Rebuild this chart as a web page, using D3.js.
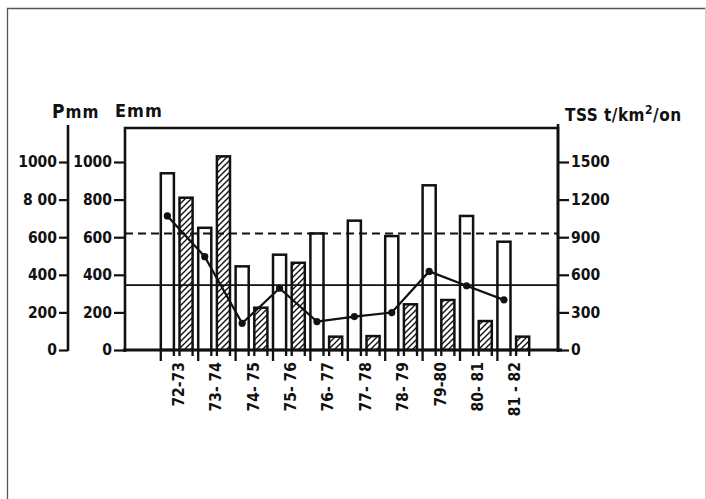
<!DOCTYPE html>
<html>
<head>
<meta charset="utf-8">
<script src="https://cdn.jsdelivr.net/npm/d3@7"></script>
<style>
  html, body { margin: 0; padding: 0; background: #fff; }
  svg { display: block; }
  text { font-family: 'DejaVu Sans Condensed', 'DejaVu Sans', sans-serif; fill: #111; }
</style>
</head>
<body>
<script>
// Hydrological years
const years = ["72-73", "73- 74", "74- 75", "75- 76", "76- 77", "77- 78", "78- 79", "79-80", "80- 81", "81 - 82"];
// Precipitation P (mm) – open bars
const precip = [940, 650, 445, 507, 620, 688, 606, 876, 713, 576];
// Runoff E (mm) – hatched bars
const runoff = [810, 1030, 225, 464, 71, 74, 243, 266, 154, 71];
// Suspended sediment yield TSS (t/km²/an) – line
const tss = [1070, 745, 213, 493, 227, 267, 299, 627, 512, 400];
// Reference levels (mm)
const dashedLevel = [620];
const solidLevel = [345];
// Axis tick values
const mmTicks = [0, 200, 400, 600, 800, 1000];
const mmTickLabels = ["0", "200", "400", "600", "800", "1000"];
const pTickLabels = ["0", "200", "400", "600", "8 00", "1000"];
const tssTicks = [0, 300, 600, 900, 1200, 1500];
const tssTickLabels = ["0", "300", "600", "900", "1200", "1500"];

const W = 706, H = 499;
const svg = d3.select("body").append("svg").attr("width", W).attr("height", H);
svg.append("rect").attr("width", W).attr("height", H).attr("fill", "#fff");

// page border
svg.append("path").attr("d", "M7.5,499 L7.5,8.5 L706,8.5")
  .attr("fill", "none").attr("stroke", "#555").attr("stroke-width", 1.3);
svg.append("line").attr("x1", 705.5).attr("x2", 705.5).attr("y1", 8).attr("y2", 499)
  .attr("stroke", "#ccc").attr("stroke-width", 1);

const plotL = 125, plotR = 558, plotT = 128, base = 350;

const y = d3.scaleLinear().domain([0, 1000]).range([base, 162]);
const yT = d3.scaleLinear().domain([0, 1500]).range([base, 162]);
const x = d3.scaleBand().domain(years).range([158, 532]);
const xs = d3.scaleBand().domain(["P", "E"]).range([0, x.bandwidth()])
  .paddingInner(0.3).paddingOuter(0.15);

// hatch pattern
const defs = svg.append("defs");
defs.append("pattern").attr("id", "hatch").attr("patternUnits", "userSpaceOnUse")
  .attr("width", 6).attr("height", 6)
  .append("path").attr("d", "M-1,7 L7,-1 M-1,1 L1,-1 M5,7 L7,5")
  .attr("stroke", "#111").attr("stroke-width", 1.4);

// bars
const bars = [];
years.forEach((yr, i) => {
  bars.push({ yr, key: "P", v: precip[i] });
  bars.push({ yr, key: "E", v: runoff[i] });
});
const g = svg.append("g");
g.selectAll("rect.bar").data(bars).join("rect").attr("class", "bar")
  .attr("x", d => x(d.yr) + xs(d.key))
  .attr("y", d => y(d.v))
  .attr("width", xs.bandwidth())
  .attr("height", d => base - y(d.v))
  .attr("fill", d => d.key === "P" ? "#fff" : "url(#hatch)")
  .attr("stroke", "#111").attr("stroke-width", 2.5);

// bar edges continue slightly below the baseline
g.selectAll("path.ext").data(bars).join("path").attr("class", "ext")
  .attr("d", d => {
    const x0 = x(d.yr) + xs(d.key), x1 = x0 + xs.bandwidth();
    const l0 = d.key === "P" ? 11 : 6;
    return `M${x0},${base} V${base + l0} M${x1},${base} V${base + 6}`;
  })
  .attr("stroke", "#111").attr("stroke-width", 2.3);

// reference lines
svg.selectAll("line.dash").data(dashedLevel).join("line").attr("class", "dash")
  .attr("x1", plotL).attr("x2", plotR).attr("y1", d => y(d)).attr("y2", d => y(d))
  .attr("stroke", "#111").attr("stroke-width", 2).attr("stroke-dasharray", "8,5");
svg.selectAll("line.solid").data(solidLevel).join("line").attr("class", "solid")
  .attr("x1", plotL).attr("x2", plotR).attr("y1", d => y(d)).attr("y2", d => y(d))
  .attr("stroke", "#111").attr("stroke-width", 1.6);

// TSS line
const pts = years.map((yr, i) => [x(yr) + xs("P") + xs.bandwidth() / 2, yT(tss[i])]);
svg.append("path").attr("d", d3.line()(pts))
  .attr("fill", "none").attr("stroke", "#111").attr("stroke-width", 2.2);
svg.selectAll("circle.pt").data(pts).join("circle").attr("class", "pt")
  .attr("cx", d => d[0]).attr("cy", d => d[1]).attr("r", 3.6).attr("fill", "#111");

// plot frame
svg.append("path")
  .attr("d", `M${plotL},${base + 2} V${plotT} H${plotR} V${base + 2}`)
  .attr("fill", "none").attr("stroke", "#111").attr("stroke-width", 2.6);
svg.append("line").attr("x1", plotL - 2).attr("x2", plotR + 4)
  .attr("y1", base).attr("y2", base).attr("stroke", "#111").attr("stroke-width", 2.8);

// Emm axis (on the frame)
const emmAxis = d3.axisLeft(y).tickValues(mmTicks).tickSize(11).tickPadding(2)
  .tickFormat((d, i) => mmTickLabels[i]);
const ge = svg.append("g").attr("transform", `translate(${plotL},0)`).call(emmAxis);

// Pmm axis (separate)
const pAxis = d3.axisLeft(y).tickValues(mmTicks).tickSize(9).tickPadding(2)
  .tickFormat((d, i) => pTickLabels[i]);
const gp = svg.append("g").attr("transform", "translate(68,0)").call(pAxis);
gp.select(".domain").attr("d", `M0,125 V${base + 1}`);

// TSS axis
const tAxis = d3.axisRight(yT).tickValues(tssTicks).tickSize(11).tickPadding(2)
  .tickFormat((d, i) => tssTickLabels[i]);
const gt = svg.append("g").attr("transform", `translate(${plotR},0)`).call(tAxis);
gt.select(".domain").attr("d", `M0,124 V${base + 1}`);

[ge, gp, gt].forEach(a => {
  a.selectAll(".domain").attr("stroke", "#111").attr("stroke-width", 2.6);
  a.selectAll(".tick line").attr("stroke", "#111").attr("stroke-width", 2.2);
  a.selectAll(".tick text").attr("font-size", 15.5).attr("font-weight", "bold")
    .attr("fill", "#111").attr("font-family", "'DejaVu Sans Condensed','DejaVu Sans',sans-serif");
});
ge.select(".domain").remove();

// x labels
svg.selectAll("text.xl").data(years).join("text").attr("class", "xl")
  .attr("transform", d => `translate(${x(d) + x.bandwidth() / 2 + 7},${base + 12}) rotate(-90)`)
  .attr("text-anchor", "end")
  .attr("font-size", 15.5).attr("font-weight", "bold")
  .text(d => d);

// axis titles
svg.append("text").attr("x", 52).attr("y", 118).attr("font-size", 19).attr("font-weight", "bold")
  .attr("letter-spacing", 1)
  .html('P<tspan font-size="17">mm</tspan>');
svg.append("text").attr("x", 115).attr("y", 117).attr("font-size", 18).attr("font-weight", "bold")
  .attr("letter-spacing", 1).text("Emm");
svg.append("text").attr("x", 565).attr("y", 121).attr("font-size", 17).attr("font-weight", "bold")
  .attr("letter-spacing", 0.5)
  .html('TSS t/km<tspan dy="-7" font-size="12">2</tspan><tspan dy="7">/on</tspan>');
</script>
</body>
</html>
